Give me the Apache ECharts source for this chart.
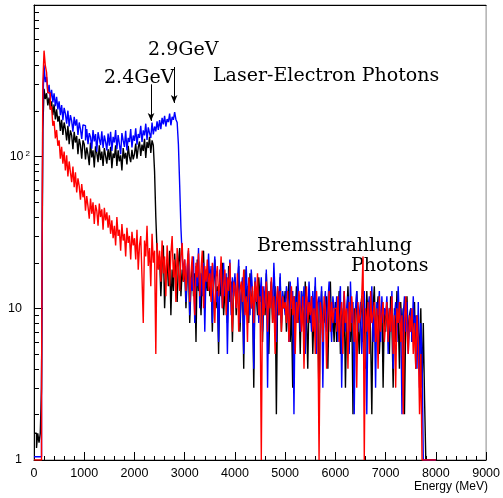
<!DOCTYPE html>
<html>
<head>
<meta charset="utf-8">
<script src="https://cdn.jsdelivr.net/npm/echarts@6/dist/echarts.min.js"></script>
<style>
  html, body { margin: 0; padding: 0; background: #fff; }
  #chart { width: 503px; height: 498px; }
</style>
</head>
<body>
<div id="chart"></div>
<script>
// histogram bins, 25 MeV wide, starting at 0 MeV (one row = 500 MeV)
const binWidth = 25
const xTickLabels = ['0', '1000', '2000', '3000', '4000', '5000', '6000', '7000', '8000', '9000']
const yMinorTicks = [2, 3, 4, 5, 6, 7, 8, 9, 20, 30, 40, 50, 60, 70, 80, 90, 200, 300, 400, 500, 600, 700, 800, 900]

// 2.4 GeV laser-electron photons (black)
const black = [
  1.5, 1.5, 1.2, 1.5, 1.3, 1.5, 3, 150, 280, 240, 262, 218, 245, 205, 232, 188, 221, 176, 205, 170,
  186, 148, 175, 139, 168, 152, 128, 160, 121, 149, 138, 112, 146, 124, 137, 104, 131, 119, 97, 128,
  121, 96, 115, 103, 88, 124, 99, 110, 85, 117, 106, 92, 119, 95, 108, 87, 114, 101, 90, 112,
  95, 116, 84, 105, 98, 119, 87, 110, 93, 102, 81, 114, 97, 106, 89, 118, 100, 92, 111, 96,
  104, 122, 97, 115, 126, 101, 120, 109, 131, 98, 125, 114, 135, 106, 128, 119, 80, 40, 24, 19,
  22, 12, 19, 26, 10, 17, 21, 14, 24, 9, 18, 13, 23, 16, 11, 20, 25, 12, 18, 15,
  19, 10, 16, 23, 8, 14, 20, 12, 17, 6, 21, 13, 15, 9, 18, 24, 11, 16, 13, 19,
  12, 18, 7, 15, 21, 10, 14, 5, 17, 12, 20, 9, 13, 16, 8, 19, 11, 15, 6, 14,
  16, 9, 13, 19, 7, 12, 15, 4, 18, 11, 14, 8, 17, 10, 13, 3, 15, 12, 9, 16,
  11, 14, 6, 13, 9, 17, 10, 5, 12, 15, 8, 11, 14, 2, 13, 9, 16, 7, 12, 10,
  13, 7, 11, 15, 6, 10, 3, 12, 9, 14, 8, 11, 5, 13, 10, 7, 15, 9, 4, 12,
  8, 12, 5, 10, 14, 7, 11, 2, 9, 13, 6, 10, 8, 12, 4, 11, 15, 7, 9, 6,
  11, 6, 9, 13, 5, 10, 7, 12, 3, 9, 14, 8, 6, 11, 2, 10, 7, 13, 8, 5,
  9, 12, 6, 10, 4, 13, 8, 11, 7, 2, 10, 14, 6, 9, 12, 5, 8, 11, 3, 10,
  7, 11, 9, 5, 12, 8, 3, 10, 6, 13, 9, 4, 11, 7, 10, 2, 8, 12, 6, 9,
  10, 6, 8, 11, 4, 9, 7, 5, 10, 3, 8, 2.5, 1, 1, 1, 1, 1, 1, 1, 1
]

// 2.9 GeV laser-electron photons (blue)
const blue = [
  1.05, 1.05, 1.05, 1.05, 1.05, 1.05, 3, 220, 400, 310, 335, 262, 298, 240, 276, 228, 262, 215, 248, 205,
  232, 188, 219, 174, 210, 192, 165, 201, 158, 188, 172, 146, 183, 160, 176, 139, 168, 152, 131, 162,
  160, 128, 152, 121, 143, 135, 113, 150, 126, 141, 108, 145, 131, 119, 147, 114, 138, 125, 110, 142,
  118, 146, 109, 135, 124, 150, 112, 139, 121, 104, 143, 128, 116, 148, 110, 133, 125, 152, 115, 138,
  127, 154, 120, 141, 133, 160, 125, 149, 138, 165, 129, 156, 143, 133, 168, 140, 158, 147, 171, 150,
  174, 152, 180, 163, 186, 158, 177, 169, 192, 161, 183, 175, 197, 176, 168, 120, 65, 34, 22, 17,
  21, 11, 18, 24, 9, 16, 13, 22, 8, 19, 14, 25, 10, 17, 12, 20, 7, 18, 15, 23,
  14, 19, 8, 16, 22, 11, 13, 6, 18, 15, 10, 20, 12, 17, 5, 14, 21, 9, 16, 12,
  17, 10, 14, 21, 8, 13, 16, 5, 12, 19, 11, 15, 9, 18, 13, 4, 16, 11, 14, 8,
  12, 16, 7, 14, 10, 18, 3, 13, 11, 15, 9, 20, 12, 6, 14, 10, 17, 8, 13, 11,
  9, 14, 11, 6, 15, 10, 13, 2, 12, 8, 16, 11, 7, 13, 10, 14, 5, 12, 9, 15,
  10, 7, 13, 9, 16, 5, 11, 12, 8, 14, 3, 10, 13, 7, 11, 15, 9, 6, 12, 10,
  8, 12, 6, 11, 14, 3, 9, 13, 7, 10, 12, 5, 15, 8, 11, 2, 10, 13, 7, 9,
  11, 5, 9, 13, 7, 2, 10, 12, 8, 14, 6, 10, 3, 11, 9, 13, 6, 12, 8, 10,
  9, 12, 5, 10, 7, 13, 4, 9, 11, 6, 14, 8, 10, 2, 9, 12, 7, 11, 5, 8,
  10, 6, 12, 7, 9, 4, 11, 3, 8, 5, 1, 1, 1, 1, 1, 1, 1, 1, 1, 1
]

// bremsstrahlung photons (red)
const red = [
  1, 1, 1, 1, 1, 1, 3, 300, 500, 400, 360, 265, 262, 205, 215, 160, 172, 132, 150, 118,
  128, 97, 116, 90, 108, 81, 102, 74, 93, 79, 68, 86, 63, 79, 58, 72, 64, 52, 66, 54,
  60, 44, 55, 47, 39, 53, 42, 50, 36, 48, 44, 35, 49, 40, 45, 33, 46, 38, 43, 34,
  41, 31, 38, 29, 35, 26, 40, 30, 33, 24, 36, 28, 31, 22, 34, 27, 30, 21, 32, 26,
  29, 21, 33, 18, 26, 30, 16, 8, 28, 22, 35, 19, 25, 14, 31, 20, 24, 5, 27, 18,
  24, 15, 28, 17, 22, 12, 26, 19, 14, 23, 30, 16, 21, 11, 25, 18, 13, 22, 27, 15,
  21, 13, 19, 25, 11, 17, 22, 14, 9, 20, 16, 23, 12, 18, 24, 10, 19, 15, 21, 13,
  17, 11, 20, 13, 8, 16, 19, 12, 15, 22, 10, 14, 18, 9, 16, 13, 20, 11, 7, 15,
  14, 10, 17, 7, 13, 15, 11, 18, 9, 12, 6, 16, 13, 10, 14, 8, 15, 11, 17, 9,
  12, 1, 14, 9, 11, 15, 7, 13, 10, 16, 8, 12, 5, 11, 14, 9, 13, 7, 12, 10,
  11, 8, 13, 6, 10, 14, 9, 12, 5, 11, 8, 13, 10, 7, 12, 4, 10, 14, 8, 11,
  9, 12, 7, 10, 5, 13, 8, 1, 11, 9, 6, 12, 10, 4, 9, 13, 7, 11, 8, 10,
  10, 7, 12, 6, 9, 11, 5, 13, 8, 10, 4, 11, 7, 12, 9, 6, 10, 3, 11, 8,
  9, 12, 22, 1, 10, 7, 11, 5, 13, 8, 9, 11, 6, 10, 4, 12, 7, 9, 11, 6,
  8, 11, 6, 10, 7, 12, 5, 9, 3, 10, 8, 11, 6, 9, 2, 8, 12, 7, 5, 9,
  7, 10, 5, 8, 4, 9, 6, 2, 5, 1, 1, 1, 1, 1, 1, 1, 1, 1, 1, 1
]

function toSteps(values) {
  const pts = values.map((v, i) => [i * binWidth, v])
  pts.push([values.length * binWidth, 1])
  return pts
}

const chart = echarts.init(document.getElementById('chart'), null, { renderer: 'canvas' })
const sans = 'Liberation Sans'

function histSeries(name, color, values) {
  return {
    name: name,
    type: 'line',
    step: 'end',
    showSymbol: false,
    lineStyle: { color: color, width: 1.4 },
    itemStyle: { color: color },
    data: toSteps(values)
  }
}

const blackSeries = histSeries('2.4GeV', '#000', black)
blackSeries.markLine = {
  silent: true,
  symbol: ['none', 'arrow'],
  symbolSize: [5, 8],
  label: { show: false },
  lineStyle: { color: '#000', width: 1, type: 'solid' },
  data: [
    [{ coord: [2330, 300] }, { coord: [2330, 172] }],
    [{ coord: [2790, 390] }, { coord: [2790, 226] }]
  ]
}

chart.setOption({
  animation: false,
  backgroundColor: '#fff',
  // grid border gives the grey right edge, the axes draw black over the rest
  grid: { left: 34, right: 14, top: 5, bottom: 38, show: true, borderColor: '#888', borderWidth: 1 },
  xAxis: [{
    type: 'value',
    min: 0,
    max: 9000,
    interval: 1000,
    axisLine: { lineStyle: { color: '#000', width: 1 } },
    axisTick: { inside: true, length: 8, lineStyle: { color: '#000' } },
    minorTick: { show: true, splitNumber: 5, length: 4, lineStyle: { color: '#000' } },
    splitLine: { show: false },
    axisLabel: {
      margin: 7,
      color: '#000',
      fontFamily: sans,
      fontSize: 12.5,
      formatter: (v) => xTickLabels[Math.round(v / 1000)]
    }
  }, {
    type: 'value',
    position: 'top',
    min: 0,
    max: 9000,
    axisLine: { show: true, onZero: false, lineStyle: { color: '#000', width: 1 } },
    axisTick: { show: false },
    axisLabel: { show: false },
    splitLine: { show: false }
  }],
  yAxis: [{
    type: 'log',
    logBase: 10,
    min: 1,
    max: 1000,
    axisLine: { show: true, onZero: false, lineStyle: { color: '#000', width: 1 } },
    axisTick: { show: true, inside: true, length: 9, lineStyle: { color: '#000' } },
    splitLine: { show: false },
    axisLabel: {
      margin: 4,
      color: '#000',
      fontFamily: sans,
      fontSize: 12.5,
      formatter: (v) => {
        if (v === 1) return '{n|1}{g| }'
        if (v === 10) return '{n|10}{g| }'
        if (v === 100) return '{n|10}{s|2}'
        return ''
      },
      rich: {
        n: { fontFamily: sans, fontSize: 12.5, color: '#000', lineHeight: 14 },
        g: { width: 8, fontSize: 8 },
        s: { fontFamily: sans, fontSize: 8, color: '#000', verticalAlign: 'top', lineHeight: 8, padding: [0, 0, 0, 2] }
      }
    }
  }],
  series: [{
    type: 'custom',
    coordinateSystem: 'cartesian2d',
    silent: true,
    clip: false,
    data: yMinorTicks.map((v) => [0, v]),
    renderItem: (params, api) => {
      const p = api.coord([0, api.value(1)])
      const y = Math.round(p[1]) + 0.5
      return {
        type: 'line',
        shape: { x1: p[0], y1: y, x2: p[0] + 5, y2: y },
        style: { stroke: '#000', lineWidth: 1 }
      }
    }
  },
  blackSeries,
  histSeries('2.9GeV', '#0000ff', blue),
  histSeries('Bremsstrahlung', '#ff0000', red)
  ],
  graphic: [
    { type: 'text', left: 148, top: 41, style: { text: '2.9GeV', font: '19px "DejaVu Serif"', fill: '#000' } },
    { type: 'text', left: 104, top: 69, style: { text: '2.4GeV', font: '19px "DejaVu Serif"', fill: '#000' } },
    { type: 'text', left: 213, top: 67, style: { text: 'Laser-Electron Photons', font: '19px "DejaVu Serif"', fill: '#000' } },
    { type: 'text', left: 257, top: 237, style: { text: 'Bremsstrahlung', font: '19px "DejaVu Serif"', fill: '#000' } },
    { type: 'text', left: 351, top: 257, style: { text: 'Photons', font: '19px "DejaVu Serif"', fill: '#000' } },
    { type: 'text', right: 15, top: 481, style: { text: 'Energy (MeV)', font: '12px "Liberation Sans"', fill: '#000' } }
  ]
})
</script>
</body>
</html>
